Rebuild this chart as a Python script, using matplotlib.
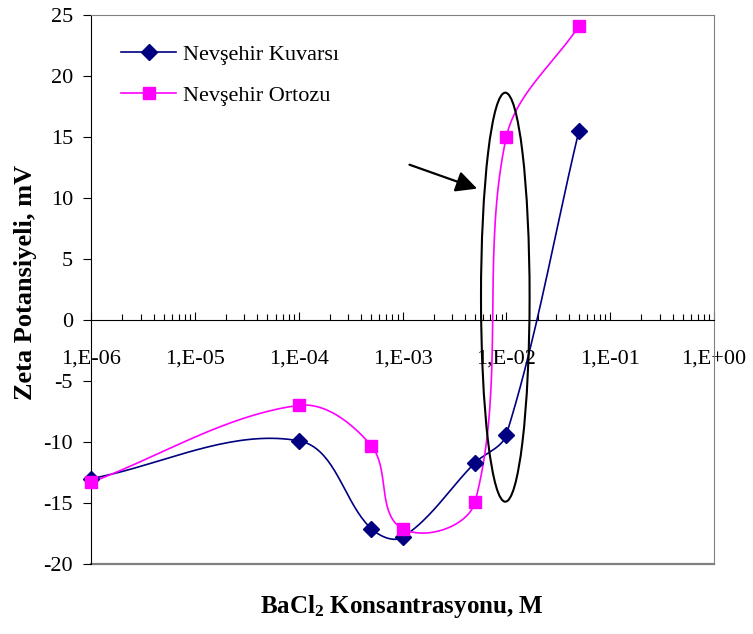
import numpy as np
import matplotlib
matplotlib.use('Agg')
import matplotlib.pyplot as plt
from matplotlib.lines import Line2D
from matplotlib.patches import Ellipse

plt.rcParams['font.family'] = 'Liberation Serif'
plt.rcParams['mathtext.fontset'] = 'custom'
plt.rcParams['mathtext.rm'] = 'Liberation Serif'
plt.rcParams['mathtext.bf'] = 'Liberation Serif:bold'

# BaCl2 concentration (M) and zeta potential (mV)
conc = [1e-6, 1e-4, 5e-4, 1e-3, 5e-3, 1e-2, 5e-2]
kuvars = [-13.0, -9.9, -17.1, -17.8, -11.7, -9.4, 15.5]
ortoz = [-13.3, -7.0, -10.3, -17.1, -14.9, 15.0, 24.1]
xticks = [1e-6, 1e-5, 1e-4, 1e-3, 1e-2, 1e-1, 1e0]
xtick_labels = ['1,E-06', '1,E-05', '1,E-04', '1,E-03', '1,E-02', '1,E-01', '1,E+00']
yticks = [-20, -15, -10, -5, 0, 5, 10, 15, 20, 25]

NAVY = '#000080'
MAGENTA = '#FF00FF'
GRAY = '#808080'


def smooth(ax, x, y, n=40):
    # bezier smoothing done in screen space, like a spreadsheet "smoothed line"
    pts = ax.transData.transform(np.column_stack([x, y]))
    out = [pts[0]]
    last = len(pts) - 1
    for i in range(last):
        p0, p1 = pts[max(i - 1, 0)], pts[i]
        p2, p3 = pts[i + 1], pts[min(i + 2, last)]
        d = np.hypot(*(p2 - p1))
        t1 = (p2 - p0) / np.hypot(*(p2 - p0))
        t2 = (p3 - p1) / np.hypot(*(p3 - p1))
        c1 = p1 + t1 * d / 3
        c2 = p2 - t2 * d / 3
        t = np.linspace(0, 1, n)[1:, None]
        seg = (1 - t)**3 * p1 + 3 * (1 - t)**2 * t * c1 + 3 * (1 - t) * t**2 * c2 + t**3 * p2
        out.extend(seg)
    return ax.transData.inverted().transform(np.array(out))


fig = plt.figure(figsize=(7.53, 6.34), dpi=100)
ax = fig.add_axes([91 / 753, 70 / 634, 623 / 753, 549 / 634])
ax.set_xscale('log')
ax.set_xlim(1e-6, 1)
ax.set_ylim(-20, 25)

for vals, color, marker, ms in [(kuvars, NAVY, 'D', 8), (ortoz, MAGENTA, 's', 8.5)]:
    curve = smooth(ax, conc, vals)
    ax.plot(curve[:, 0], curve[:, 1], color=color, lw=1.2, zorder=3)
    ax.plot(conc, vals, ls='none', marker=marker, ms=ms, color=color,
            mec=color, zorder=4, clip_on=False)

# frame: y axis black, x axis through zero, gray plot-area border
for side in ['top', 'right']:
    ax.spines[side].set_color(GRAY)
ax.spines['left'].set_color('black')
ax.spines['bottom'].set_position(('data', 0))
ax.spines['bottom'].set_color('black')
ax.axhline(-20, color=GRAY, lw=1.6, clip_on=False, zorder=1)

ax.set_xticks(xticks)
ax.set_xticklabels(xtick_labels)
ax.tick_params(axis='x', which='major', direction='in', length=6, pad=21,
               labelsize=16, width=0.8)
ax.tick_params(axis='x', which='minor', direction='in', length=4, width=0.8)
ax.set_yticks(yticks)
ax.set_yticklabels([str(v) for v in yticks])
ax.tick_params(axis='y', direction='out', length=6, pad=7, labelsize=16, width=0.8)

# highlight around the charge reversal
ax.add_patch(Ellipse((0.665, 0.486), 0.078, 0.745, transform=ax.transAxes,
                     fill=False, ec='black', lw=1.5, zorder=5))
ax.annotate('', xy=(0.624, 0.682), xytext=(0.507, 0.729), xycoords='axes fraction',
            arrowprops=dict(arrowstyle='-|>', color='black', lw=1.6,
                            mutation_scale=32), zorder=5)

handles = [Line2D([], [], color=NAVY, marker='D', ms=8, lw=1.2),
           Line2D([], [], color=MAGENTA, marker='s', ms=8.5, lw=1.2)]
ax.legend(handles, ['Nevşehir Kuvarsı', 'Nevşehir Ortozu'], loc='upper left',
          bbox_to_anchor=(0.048, 0.946), frameon=False, fontsize=16,
          handlelength=2.5, handletextpad=0.3, labelspacing=0.9,
          borderpad=0, borderaxespad=0)

fig.text(26 / 753, 1 - 282 / 634, 'Zeta Potansiyeli, mV', rotation=90,
         ha='center', va='center', fontsize=19, fontweight='bold')
fig.text(402 / 753, 1 - 607 / 634, r'BaCl$\mathbf{_2}$ Konsantrasyonu, M',
         ha='center', va='center', fontsize=18, fontweight='bold')

fig.savefig('out.png', dpi=100)
